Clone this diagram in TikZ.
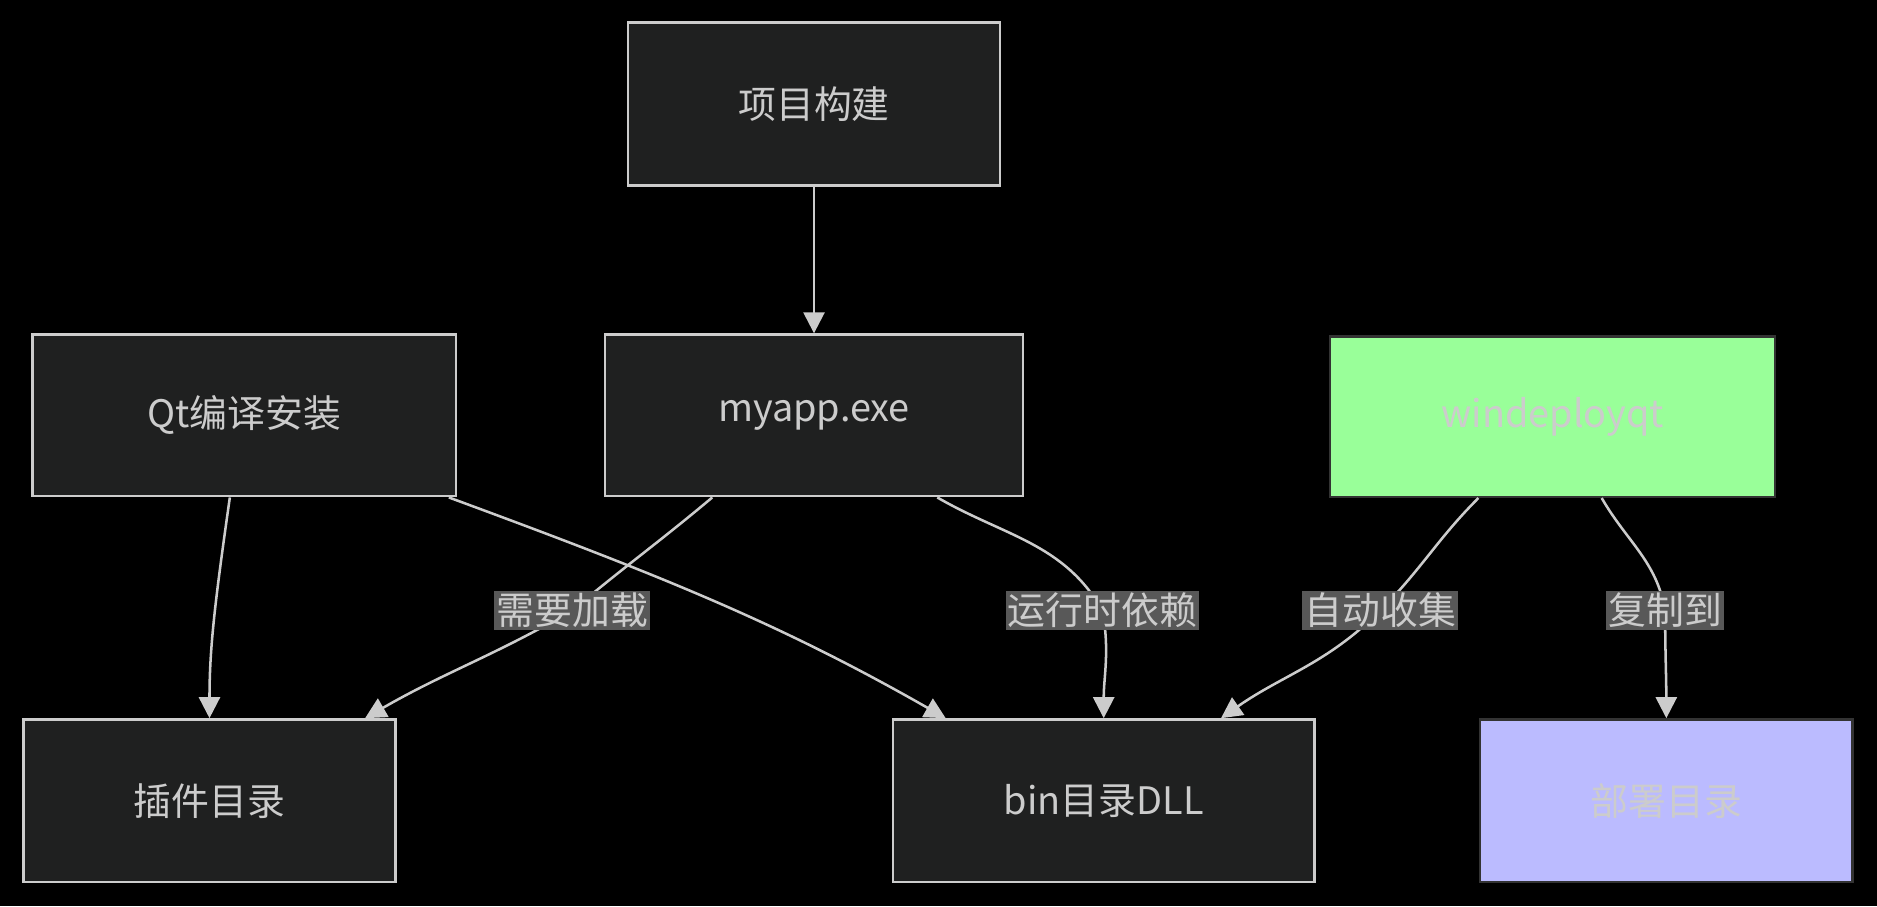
\documentclass[tikz,border=0pt]{standalone}
\usepackage{fontspec}
\setmainfont{Noto Sans CJK SC}
\usetikzlibrary{arrows.meta,calc}
\definecolor{nodefill}{HTML}{1F2020}
\definecolor{edgec}{HTML}{CCCCCC}
\definecolor{labfill}{HTML}{585858}
\begin{document}
\begin{tikzpicture}[x=0.02cm,y=-0.02cm,
  box/.style={draw=edgec,line width=1.2pt,fill=nodefill,text=edgec,font=\fontsize{18}{20}\selectfont,inner sep=0pt,anchor=center},
  lab/.style={fill=labfill,text=edgec,font=\fontsize{18}{20}\selectfont,inner sep=1pt},
  edge/.style={draw=edgec,line width=1.2pt,-{Triangle[length=10pt,width=10pt]}}]
\fill[black] (0,0) rectangle (1568,757);
\useasboundingbox (0,0) rectangle (1568,757);
\node[box,minimum width=6.22cm,minimum height=2.72cm] (a) at (680,87) {项目构建};
\node[box,minimum width=7.08cm,minimum height=2.7cm] (qt) at (204,347) {Qt编译安装};
\node[box,minimum width=6.98cm,minimum height=2.7cm] (my) at (680,347) {myapp.exe};
\node[box,draw=black!80,fill={rgb,255:red,153;green,255;blue,153},minimum width=7.44cm,minimum height=2.68cm] (w) at (1297,348) {windeployqt};
\node[box,minimum width=6.22cm,minimum height=2.72cm] (p) at (175,669) {插件目录};
\node[box,minimum width=7.04cm,minimum height=2.72cm] (b) at (922,669) {bin目录DLL};
\node[box,draw=black!80,fill={rgb,255:red,187;green,187;blue,255},minimum width=6.22cm,minimum height=2.72cm] (d) at (1392,669) {部署目录};
\draw[edge] (a) -- (my);
\draw[edge] ([xshift=-0.24cm]qt.south) .. controls (180,500) and (175,540) .. ([xshift=0cm]p.north);
\draw[edge] ([xshift=3.42cm]qt.south) .. controls (550,480) and (650,520) .. ([xshift=-2.64cm]b.north);
\coordinate (l1) at (478,510);
\coordinate (l2) at (921,510);
\coordinate (l3) at (1153,510);
\coordinate (l4) at (1391,510);
\draw[edge] ([xshift=-1.7cm]my.south) to[out=-140,in=40] (l1) to[out=-150,in=30] ([xshift=2.6cm]p.north);
\draw[edge] ([xshift=2.06cm]my.south) to[out=-30,in=120] (l2) to[out=-80,in=90] (b.north);
\draw[edge] ([xshift=-1.24cm]w.south) to[out=-135,in=45] (l3) to[out=-135,in=35] ([xshift=1.96cm]b.north);
\draw[edge] ([xshift=0.82cm]w.south) to[out=-60,in=100] (l4) to[out=-90,in=90] (d.north);
\node[lab] at (l1) {需要加载};
\node[lab] at (l2) {运行时依赖};
\node[lab] at (l3) {自动收集};
\node[lab] at (l4) {复制到};
\end{tikzpicture}
\end{document}
